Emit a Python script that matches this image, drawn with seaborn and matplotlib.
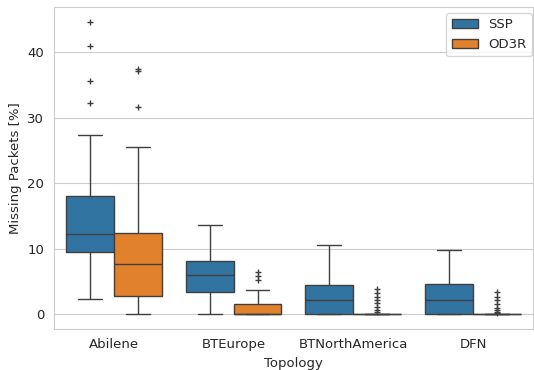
import pandas as pd
import matplotlib.pyplot as plt
import seaborn as sns

sns.set_style("whitegrid")

topologies = ["Abilene", "BTEurope", "BTNorthAmerica", "DFN"]
methods = ["SSP", "OD3R"]

# per-run missing packet percentages
abilene_ssp = [2.3, 4.0, 5.5, 6.8, 7.9, 8.8, 9.5, 10.1, 10.6, 11.0, 11.5, 11.9, 12.2,
               12.9, 13.8, 14.9, 16.0, 17.1, 18.0, 20.5, 27.3, 32.2, 35.6, 40.9, 44.7]
abilene_od3r = [0.0, 0.4, 0.9, 1.4, 1.9, 2.3, 2.7, 3.5, 4.4, 5.3, 6.1, 6.9, 7.6,
                8.3, 9.0, 9.8, 10.7, 11.6, 12.4, 14.5, 18.0, 25.6, 31.6, 37.1, 37.4]
bteurope_ssp = [0.0, 1.2, 2.4, 3.4, 4.4, 5.2, 6.0, 6.8, 7.5, 8.1, 9.5, 11.2, 13.6]
bteurope_od3r = [0.0] * 12 + [0.4, 0.8, 1.1, 1.5, 2.6, 3.7, 5.2, 5.8, 6.4]
btna_ssp = [0.0, 0.0, 0.0, 0.0, 0.7, 1.4, 2.1, 2.9, 3.7, 4.4, 5.8, 7.9, 10.5]
btna_od3r = [0.0] * 40 + [0.35, 0.6, 1.1, 1.6, 2.1, 2.6, 3.2, 3.8]
dfn_ssp = [0.0, 0.0, 0.0, 0.0, 0.7, 1.4, 2.1, 2.9, 3.8, 4.6, 6.0, 7.8, 9.8]
dfn_od3r = [0.0] * 40 + [0.15, 0.35, 0.6, 0.9, 1.5, 2.1, 2.6, 3.3]

series = {
    ("Abilene", "SSP"): abilene_ssp,
    ("Abilene", "OD3R"): abilene_od3r,
    ("BTEurope", "SSP"): bteurope_ssp,
    ("BTEurope", "OD3R"): bteurope_od3r,
    ("BTNorthAmerica", "SSP"): btna_ssp,
    ("BTNorthAmerica", "OD3R"): btna_od3r,
    ("DFN", "SSP"): dfn_ssp,
    ("DFN", "OD3R"): dfn_od3r,
}

rows = []
for (topo, method), values in series.items():
    for v in values:
        rows.append({"Topology": topo, "Method": method, "Missing Packets [%]": v})
df = pd.DataFrame(rows)

plt.figure(figsize=(5.34, 3.7), dpi=100)

ax = sns.boxplot(
    x="Topology",
    y="Missing Packets [%]",
    hue="Method",
    data=df,
    order=topologies,
    hue_order=methods,
    flierprops={"marker": "+", "markersize": 4},
)

ax.legend(loc="upper right", bbox_to_anchor=(0.998, 0.981),
          borderaxespad=0, fontsize=9.5)
ax.tick_params(labelsize=9.5)
ax.xaxis.label.set_size(9.5)
ax.yaxis.label.set_size(9.5)

plt.subplots_adjust(left=0.101, right=0.998, bottom=0.112, top=0.981)

plt.savefig("out.png", dpi=100)
